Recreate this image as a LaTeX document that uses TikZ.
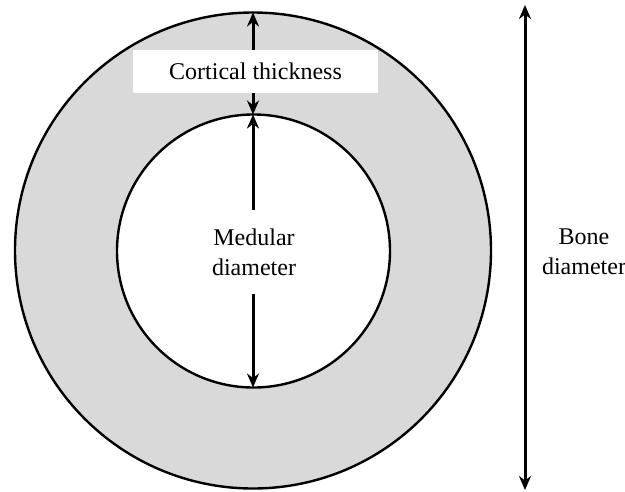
\documentclass[tikz,border=0pt]{standalone}
\usepackage{fontspec}
\setmainfont{Liberation Serif}
\usetikzlibrary{arrows.meta}

\tikzset{
    bone/.style={line width=2.4pt, fill=black!15},
    marrow/.style={line width=2.4pt, fill=white},
    dim/.style={line width=3pt, {Stealth[length=14pt, width=12pt]}-{Stealth[length=14pt, width=12pt]}},
    lbl/.style={font=\fontsize{24}{30}\selectfont, align=center, inner sep=0pt}
}

\begin{document}
\begin{tikzpicture}[x=1pt, y=-1pt]
    \useasboundingbox (0, 0) rectangle (625, 491);

    % Outer cortex and medullary cavity
    \draw [bone] (253, 250.5) circle (238);
    \draw [marrow] (253.5, 251) circle (136.5);

    % End points of the measurements
    \coordinate (outerTop) at (253, 12.5);
    \coordinate (innerTop) at (253, 114.5);
    \coordinate (innerBot) at (253, 387.5);
    \coordinate (boneTop) at (525, 5);
    \coordinate (boneBot) at (525, 490);

    % Cortical thickness
    \draw [dim] (outerTop) -- (innerTop);
    \node [lbl, fill=white, minimum width=245pt, minimum height=43pt] (cortex) at (255.5, 71.5) {Cortical thickness};

    % Medular diameter
    \draw [dim] (innerTop) -- (innerBot);
    \node [lbl, fill=white, minimum width=84pt, minimum height=84pt] (medular) at (254, 252) {Medular\\diameter};

    % Bone diameter
    \draw [dim] (boneTop) -- (boneBot);
    \node [lbl] (bone) at (584, 252) {Bone\\diameter};
\end{tikzpicture}
\end{document}
